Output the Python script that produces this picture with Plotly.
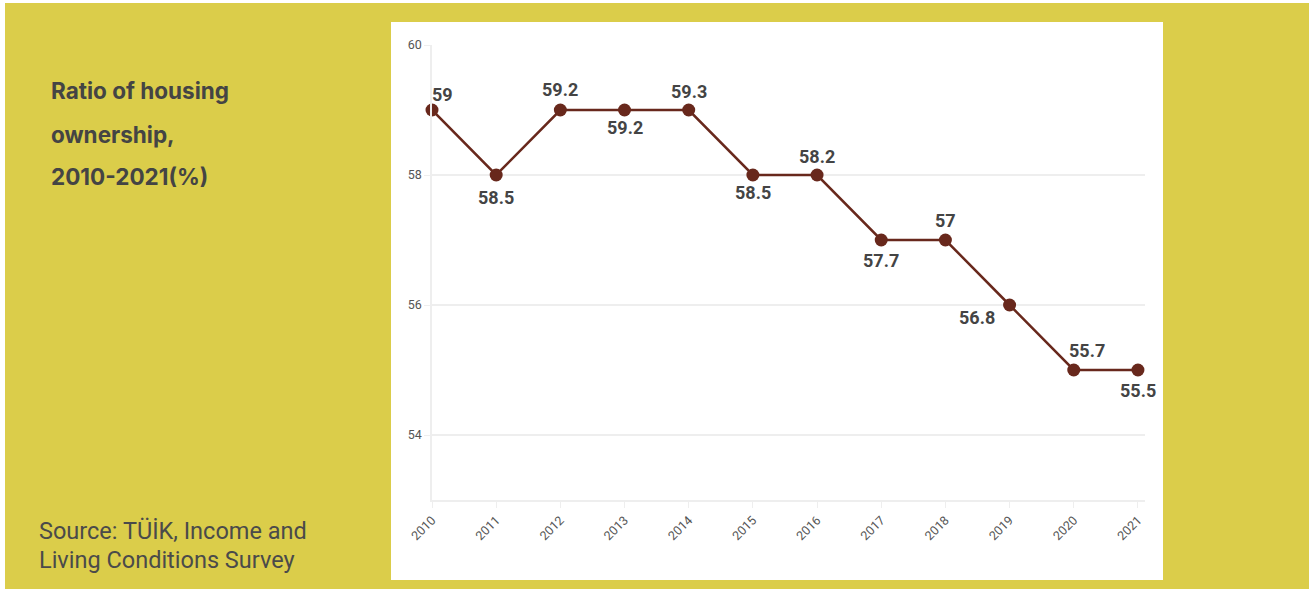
import plotly.graph_objects as go

years = [2010, 2011, 2012, 2013, 2014, 2015, 2016, 2017, 2018, 2019, 2020, 2021]
plotted = [59, 58, 59, 59, 59, 58, 58, 57, 57, 56, 55, 55]
labels = ["59", "58.5", "59.2", "59.2", "59.3", "58.5", "58.2", "57.7", "57", "56.8", "55.7", "55.5"]
y_ticks = [54, 56, 58, 60]
title_lines = ["Ratio of housing", "ownership,", "2010-2021(%)"]
source_lines = ["Source: TÜİK, Income and", "Living Conditions Survey"]

# label placement (styling, pixels)
label_dx = [10, 0, 0, 0, 0, 0, 0, 0, 0, -33, 13, 0]
label_dy = [16, -22, 21, -17, 19, -17, 19, -20, 20, -12, 20, -20]

W, H = 1309, 589
L, R, T, B = 432, 1145, 45, 500

def px(x):
    return (x - L) / (R - L)

def py(y):
    return (B - y) / (B - T)

YELLOW = "rgb(219,205,74)"
BROWN = "rgb(104,40,28)"
TXT = "#444444"
GRID = "#eeeeee"

fig = go.Figure()
fig.add_trace(go.Scatter(
    x=years, y=plotted, mode="lines+markers",
    line=dict(color=BROWN, width=2.5),
    marker=dict(color=BROWN, size=13),
    cliponaxis=False, hoverinfo="skip",
))

shapes = [
    dict(type="rect", xref="paper", yref="paper", x0=px(5), x1=px(W + 5), y0=py(3), y1=py(H + 5),
         fillcolor=YELLOW, line=dict(width=0), layer="below"),
    dict(type="rect", xref="paper", yref="paper", x0=px(391), x1=px(1163), y0=py(22), y1=py(580),
         fillcolor="white", line=dict(width=0), layer="below"),
]

annotations = []
for yr, v, lab, dx, dy in zip(years, plotted, labels, label_dx, label_dy):
    annotations.append(dict(x=yr, y=v, xref="x", yref="y", text=lab, showarrow=False,
                            xshift=dx, yshift=dy, xanchor="center", yanchor="middle",
                            font=dict(family="Roboto", size=18, color=TXT, weight="bold")))
for i, line in enumerate(title_lines):
    annotations.append(dict(xref="paper", yref="paper", x=px(49), y=py(91 + 43 * i),
                            xanchor="left", yanchor="middle", text=line, showarrow=False,
                            font=dict(family="Inter", size=22.5, color="#444444", weight="bold")))
for i, line in enumerate(source_lines):
    annotations.append(dict(xref="paper", yref="paper", x=px(37), y=py(531 + 29 * i),
                            xanchor="left", yanchor="middle", text=line, showarrow=False,
                            font=dict(family="Roboto", size=23.5, color="#4a4a4a")))

fig.update_layout(
    width=W, height=H,
    margin=dict(l=L, r=W - R, t=T, b=H - B),
    paper_bgcolor="white", plot_bgcolor="rgba(0,0,0,0)",
    shapes=shapes, annotations=annotations, showlegend=False,
    xaxis=dict(range=[2010, 2021.11], tickvals=years, ticktext=[str(y) for y in years],
               tickangle=-45, tickfont=dict(family="Roboto", size=12.5, color="#555"),
               showgrid=False, zeroline=False, showline=True, linecolor=GRID, linewidth=2,
               ticks="outside", ticklen=6, tickcolor=GRID, tickwidth=1),
    yaxis=dict(range=[53, 60], tickvals=y_ticks, tickfont=dict(family="Roboto", size=12.5, color="#555"),
               showgrid=True, gridcolor=GRID, gridwidth=1.5, zeroline=False,
               showline=True, linecolor=GRID, linewidth=1.5,
               ticks="outside", ticklen=6, tickcolor=GRID),
)

fig.write_html("out.html")
